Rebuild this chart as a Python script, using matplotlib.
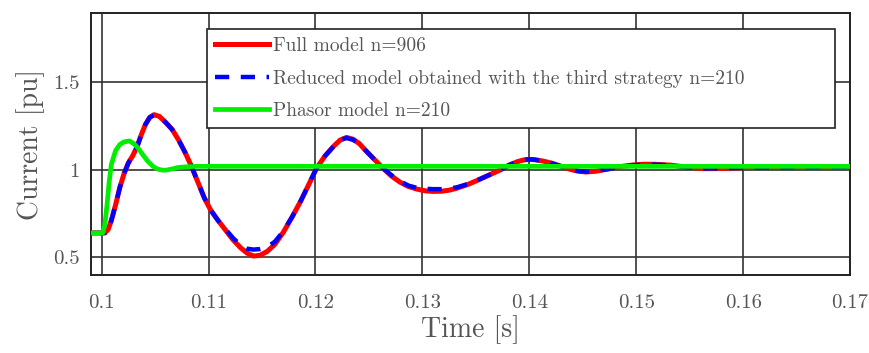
import matplotlib
matplotlib.use("Agg")
import matplotlib.pyplot as plt

plt.rcParams['font.family'] = ['cmr10', 'DejaVu Serif']
plt.rcParams['axes.formatter.use_mathtext'] = True

# time axis shared by full and reduced model traces
t_full = [0.099, 0.1003, 0.1006, 0.1009, 0.1013, 0.1017, 0.1021, 0.1025, 0.1029, 0.1033,
          0.1037, 0.1041, 0.1045, 0.1049, 0.1054, 0.106, 0.1066, 0.1072, 0.1078, 0.1084,
          0.109, 0.1096, 0.1102, 0.1109, 0.1116, 0.1123, 0.113, 0.1136, 0.1142, 0.1148,
          0.1155, 0.1162, 0.117, 0.1178, 0.1186, 0.1194, 0.1201, 0.1209, 0.1217, 0.1223,
          0.1229, 0.1235, 0.1241, 0.1247, 0.1255, 0.1263, 0.1271, 0.1279, 0.1287, 0.1295,
          0.1303, 0.131, 0.1318, 0.1325, 0.1332, 0.1343, 0.1354, 0.1364, 0.1373, 0.1381,
          0.1389, 0.1395, 0.14, 0.1405, 0.1413, 0.1421, 0.1429, 0.1437, 0.1445, 0.1453,
          0.1462, 0.1472, 0.1484, 0.1497, 0.1507, 0.1517, 0.1532, 0.1548, 0.1563, 0.158,
          0.16, 0.165, 0.17]

i_full = [0.64, 0.64, 0.66, 0.71, 0.80, 0.90, 0.98, 1.04, 1.08, 1.13,
          1.20, 1.26, 1.30, 1.315, 1.305, 1.27, 1.23, 1.17, 1.10, 1.02,
          0.93, 0.84, 0.77, 0.71, 0.655, 0.60, 0.555, 0.525, 0.508, 0.512,
          0.535, 0.575, 0.645, 0.73, 0.82, 0.92, 1.01, 1.08, 1.135, 1.17,
          1.185, 1.175, 1.15, 1.11, 1.06, 1.01, 0.965, 0.93, 0.905, 0.89,
          0.88, 0.877, 0.878, 0.884, 0.895, 0.918, 0.947, 0.975, 1.0, 1.027,
          1.047, 1.057, 1.06, 1.058, 1.05, 1.038, 1.022, 1.005, 0.993, 0.988,
          0.992, 1.003, 1.018, 1.028, 1.032, 1.032, 1.027, 1.015, 1.007, 1.008,
          1.013, 1.016, 1.017]

i_reduced = [0.64, 0.64, 0.66, 0.71, 0.80, 0.90, 0.98, 1.04, 1.08, 1.13,
             1.20, 1.26, 1.30, 1.312, 1.302, 1.27, 1.23, 1.17, 1.10, 1.02,
             0.93, 0.84, 0.77, 0.71, 0.66, 0.61, 0.57, 0.55, 0.545, 0.548,
             0.56, 0.59, 0.65, 0.73, 0.82, 0.92, 1.01, 1.08, 1.135, 1.17,
             1.182, 1.172, 1.15, 1.11, 1.06, 1.01, 0.97, 0.935, 0.91, 0.897,
             0.892, 0.89, 0.89, 0.894, 0.90, 0.92, 0.948, 0.975, 1.0, 1.027,
             1.047, 1.057, 1.06, 1.058, 1.05, 1.038, 1.022, 1.005, 0.994, 0.99,
             0.993, 1.003, 1.016, 1.026, 1.03, 1.03, 1.026, 1.015, 1.008, 1.009,
             1.013, 1.016, 1.017]

t_phasor = [0.099, 0.1001, 0.1003, 0.1005, 0.1007, 0.1009, 0.1013, 0.1017, 0.1021, 0.1026,
            0.103, 0.1034, 0.1038, 0.1043, 0.1048, 0.1052, 0.1056, 0.106, 0.1065, 0.1071,
            0.108, 0.109, 0.12, 0.17]
i_phasor = [0.64, 0.64, 0.69, 0.80, 0.93, 1.03, 1.11, 1.145, 1.16, 1.165,
            1.15, 1.125, 1.09, 1.05, 1.02, 1.005, 0.999, 0.998, 1.004, 1.013,
            1.018, 1.02, 1.02, 1.02]

labels = ['Full model n=906',
          'Reduced model obtained with the third strategy n=210',
          'Phasor model n=210']

x_ticks = [0.1, 0.11, 0.12, 0.13, 0.14, 0.15, 0.16, 0.17]
x_ticklabels = ['0.1', '0.11', '0.12', '0.13', '0.14', '0.15', '0.16', '0.17']
y_ticks = [0.5, 1.0, 1.5]
y_ticklabels = ['0.5', '1', '1.5']

text_color = '#555555'

fig = plt.figure(figsize=(8.69, 3.53), dpi=100)
ax = fig.add_axes([0.1047, 0.221, 0.8735, 0.742])

ax.plot(t_full, i_full, color='#ff0000', lw=3.6, label=labels[0], zorder=3)
ax.plot(t_full, i_reduced, color='#0000ff', lw=3.2, linestyle=(0, (3.2, 2.6)),
        label=labels[1], zorder=4)
ax.plot(t_phasor, i_phasor, color='#00ee00', lw=3.4, label=labels[2], zorder=5)

ax.set_xlim(0.099, 0.17)
ax.set_ylim(0.4, 1.895)
ax.set_xticks(x_ticks)
ax.set_xticklabels(x_ticklabels)
ax.set_yticks(y_ticks)
ax.set_yticklabels(y_ticklabels)
ax.tick_params(length=0, pad=14, labelsize=15, labelcolor=text_color)
ax.tick_params(axis='y', pad=8)

ax.grid(True, color='#333333', lw=1.2)
ax.set_axisbelow(True)
for s in ax.spines.values():
    s.set_linewidth(1.4)
    s.set_color('#222222')

ax.set_xlabel('Time [s]', fontsize=20, color=text_color, labelpad=2)
ax.set_ylabel('Current [pu]', fontsize=20, color=text_color, labelpad=6)

# legend box stretched to the width seen in the original
leg = ax.legend(loc='upper left', bbox_to_anchor=(0.1528, 0.0, 0.8274, 0.939),
                mode='expand', borderaxespad=0,
                fontsize=14, handlelength=2.8, handletextpad=0.2, labelspacing=0.76,
                borderpad=0.4, fancybox=False, framealpha=1, edgecolor='#222222')
leg.get_frame().set_linewidth(1.2)
for txt in leg.get_texts():
    txt.set_color(text_color)

fig.savefig('out.png', dpi=100)
